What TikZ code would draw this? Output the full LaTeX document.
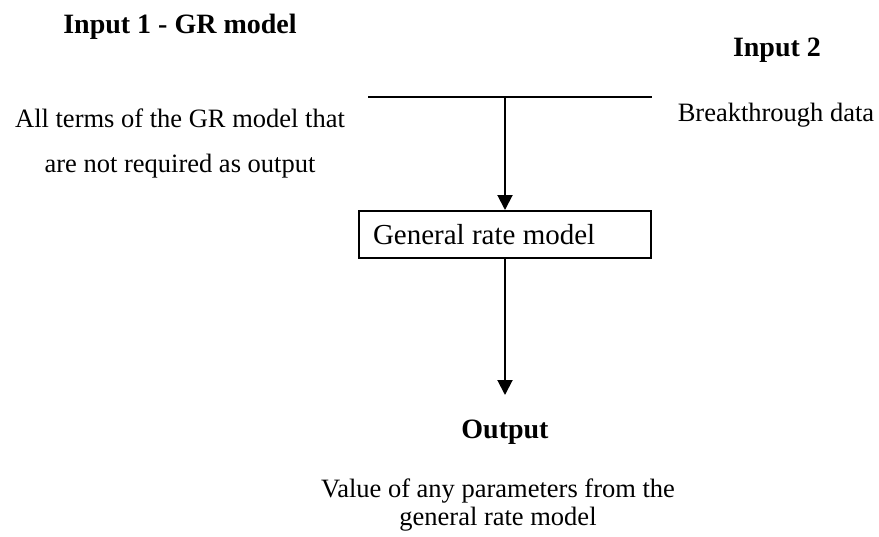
\documentclass[tikz,border=0pt]{standalone}
\usepackage{fontspec}
\setmainfont{Liberation Serif}
\usetikzlibrary{arrows.meta}
\begin{document}
\begin{tikzpicture}[x=1pt,y=-1pt,
  hdr/.style={font=\fontsize{28}{30}\selectfont\bfseries, inner sep=0pt, anchor=base},
  txt/.style={font=\fontsize{26.5}{45}\selectfont, inner sep=0pt, anchor=base, align=center},
  modelbox/.style={draw, line width=2pt, text width=264pt, align=flush left, inner xsep=14pt, inner ysep=0pt,
    minimum height=47pt, font=\fontsize{29}{31}\selectfont},
  conn/.style={line width=2.5pt},
  arr/.style={line width=2pt, -{Triangle[width=15pt,length=15pt]}}
]
\useasboundingbox (0,0) rectangle (879,536);
\node[hdr] (in1) at (180,33) {Input 1 - GR model};
\node[hdr] (in2) at (777,56) {Input 2};
\node[txt] (bt) at (776,121) {Breakthrough data};
\node[txt] (terms) at (180,172) {All terms of the GR model that\\are not required as output};
\coordinate (hl) at (368,97);
\coordinate (hr) at (652,97);
\coordinate (j) at (505,97);
\draw[conn] (hl) -- (hr);
\node[modelbox] (grm) at (505,234.5) {General rate model};
\draw[arr] (j) -- (grm.north);
\coordinate (tip) at (505,395);
\draw[arr] (grm.south) -- (tip);
\node[hdr] (out) at (505,438) {Output};
\node[txt, font=\fontsize{26.5}{28}\selectfont] (val) at (498,525) {Value of any parameters from the\\general rate model};
\end{tikzpicture}
\end{document}
